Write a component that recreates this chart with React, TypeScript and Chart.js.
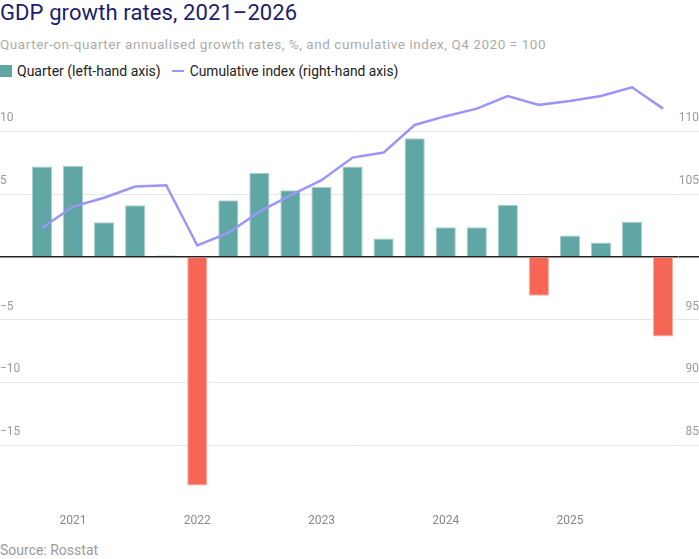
import { useEffect, useRef } from "react";
import { Chart, registerables } from "chart.js";

Chart.register(...registerables);

const quarters = [
  "Q1 2021", "Q2 2021", "Q3 2021", "Q4 2021",
  "Q1 2022", "Q2 2022", "Q3 2022", "Q4 2022",
  "Q1 2023", "Q2 2023", "Q3 2023", "Q4 2023",
  "Q1 2024", "Q2 2024", "Q3 2024", "Q4 2024",
  "Q1 2025", "Q2 2025", "Q3 2025", "Q4 2025",
  "Q1 2026",
];
const quarterGrowth = [
  7.2, 7.25, 2.75, 4.1, 0.1, -18.2, 4.5, 6.7, 5.3, 5.55, 7.2, 1.45, 9.45, 2.35,
  2.35, 4.15, -3.1, 1.7, 1.15, 2.8, -6.35,
];
const cumulativeIndex = [
  102.3, 104.0, 104.7, 105.6, 105.7, 100.9, 101.9, 103.6, 104.9, 106.1, 107.9,
  108.3, 110.5, 111.2, 111.8, 112.8, 112.1, 112.4, 112.8, 113.5, 111.8,
];
const leftTicks = [10, 5, 0, -5, -10, -15];
const rightTicks = [110, 105, 100, 95, 90, 85];

const FONT = 'Roboto, "Noto Sans", sans-serif';
const TEAL = "#60a6a4";
const TEAL_EDGE = "#a6d0cc";
const RED = "#f76655";
const RED_EDGE = "#fbaea4";
const LINE = "#9b95fb";
const GRID = "#e6e6e6";
const ZERO = "#222222";
const TICK_COLOR = "#9a9a9a";

const fmt = (v: number) => (v < 0 ? "\u2212" + Math.abs(v) : String(v));

export default function App() {
  const canvasRef = useRef<HTMLCanvasElement | null>(null);

  useEffect(() => {
    document.body.style.margin = "0";
    const canvas = canvasRef.current;
    if (!canvas) return;
    const chart = new Chart(canvas, {
      type: "bar",
      data: {
        labels: quarters,
        datasets: [
          {
            type: "line",
            label: "Cumulative index (right-hand axis)",
            data: cumulativeIndex,
            yAxisID: "y1",
            borderColor: LINE,
            borderWidth: 2.5,
            pointRadius: 0,
            tension: 0,
            order: 0,
          } as any,
          {
            type: "bar",
            label: "Quarter (left-hand axis)",
            data: quarterGrowth,
            yAxisID: "y",
            backgroundColor: quarterGrowth.map((v) => (v < 0 ? RED : TEAL)),
            borderColor: quarterGrowth.map((v) => (v < 0 ? RED_EDGE : TEAL_EDGE)),
            borderWidth: 1,
            categoryPercentage: 0.65,
            barPercentage: 1,
            order: 1,
          },
        ],
      },
      options: {
        animation: false,
        responsive: false,
        maintainAspectRatio: false,
        layout: { padding: 0 },
        plugins: {
          legend: { display: false },
          tooltip: { enabled: false },
          title: { display: false },
        },
        scales: {
          x: {
            offset: true,
            grid: { display: false, drawTicks: false },
            border: { display: false },
            afterFit: (s: any) => {
              s.height = 22;
              s.paddingLeft = 0;
              s.paddingRight = 0;
            },
            ticks: {
              autoSkip: false,
              maxRotation: 0,
              padding: 6,
              color: "#888888",
              font: { family: FONT, size: 12 },
              callback: (_v: any, i: number) =>
                quarters[i].startsWith("Q2") ? quarters[i].slice(3) : "",
            },
          },
          y: {
            position: "left",
            min: -20,
            max: 14,
            afterBuildTicks: (s: any) => {
              s.ticks = leftTicks.map((v) => ({ value: v }));
            },
            afterFit: (s: any) => {
              s.width = 26.5;
              s.paddingTop = 0;
              s.paddingBottom = 0;
            },
            border: { display: false },
            grid: {
              color: (c: any) => (c.tick && c.tick.value === 0 ? ZERO : GRID),
              lineWidth: (c: any) => (c.tick && c.tick.value === 0 ? 1.5 : 1),
              drawTicks: true,
              tickLength: 40,
            },
            ticks: {
              crossAlign: "far",
              labelOffset: -13,
              padding: 0,
              color: TICK_COLOR,
              font: { family: FONT, size: 12 },
              callback: (v: any) => (Number(v) === 0 ? "" : fmt(Number(v))),
            },
          },
          y1: {
            position: "right",
            min: 80,
            max: 114,
            afterBuildTicks: (s: any) => {
              s.ticks = rightTicks.map((v) => ({ value: v }));
            },
            afterFit: (s: any) => {
              s.width = 20.4;
              s.paddingTop = 0;
              s.paddingBottom = 0;
            },
            border: { display: false },
            grid: {
              drawOnChartArea: false,
              color: (c: any) => (c.tick && c.tick.value === 100 ? ZERO : GRID),
              lineWidth: (c: any) => (c.tick && c.tick.value === 100 ? 1.5 : 1),
              drawTicks: true,
              tickLength: 40,
            },
            ticks: {
              crossAlign: "far",
              labelOffset: -13,
              padding: 0,
              color: TICK_COLOR,
              font: { family: FONT, size: 12 },
              callback: (v: any) => (Number(v) === 100 ? "" : String(v)),
            },
          },
        },
      } as any,
    });
    return () => chart.destroy();
  }, []);

  return (
    <div
      style={{
        position: "relative",
        width: 699,
        height: 559,
        fontFamily: FONT,
        overflow: "hidden",
        background: "#fff",
      }}
    >
      <div
        style={{
          position: "absolute",
          left: 0,
          top: 0,
          fontSize: 22,
          lineHeight: "26px",
          letterSpacing: 0.1,
          color: "#1c1d6e",
          whiteSpace: "nowrap",
        }}
      >
        GDP growth rates, 2021–2026
      </div>
      <div
        style={{
          position: "absolute",
          left: 0,
          top: 36,
          fontSize: 13.5,
          lineHeight: "16px",
          letterSpacing: 0.55,
          color: "#ababab",
          whiteSpace: "nowrap",
        }}
      >
        Quarter-on-quarter annualised growth rates, %, and cumulative index, Q4 2020 = 100
      </div>
      <div
        style={{
          position: "absolute",
          left: 0,
          top: 62,
          height: 18,
          display: "flex",
          alignItems: "center",
          fontSize: 14,
          lineHeight: "18px",
          color: "#222",
          whiteSpace: "nowrap",
        }}
      >
        <span style={{ display: "inline-block", width: 12, height: 12, background: TEAL, marginRight: 5 }} />
        <span>Quarter (left-hand axis)</span>
        <span
          style={{ display: "inline-block", width: 12, height: 2, background: LINE, marginLeft: 11, marginRight: 6 }}
        />
        <span style={{ fontSize: 13.8 }}>Cumulative index (right-hand axis)</span>
      </div>
      <div style={{ position: "absolute", left: 0, top: 81, width: 699, height: 449 }}>
        <canvas ref={canvasRef} width={699} height={449} style={{ width: 699, height: 449, display: "block" }} />
      </div>
      <div
        style={{
          position: "absolute",
          left: 0,
          top: 542,
          fontSize: 14,
          lineHeight: "16px",
          color: "#9a9a9a",
          whiteSpace: "nowrap",
        }}
      >
        Source: Rosstat
      </div>
    </div>
  );
}
